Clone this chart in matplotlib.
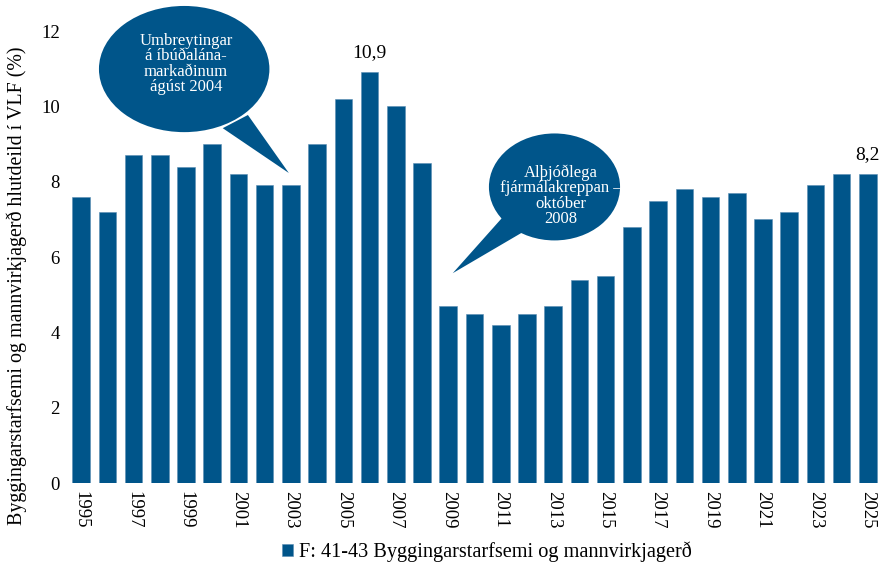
import matplotlib.pyplot as plt
import numpy as np
from matplotlib.patches import Ellipse, Polygon

plt.rcParams["font.family"] = ["Liberation Serif", "DejaVu Serif"]

years = np.arange(1995, 2026)
share = [
    7.6, 7.2, 8.7, 8.7, 8.4, 9.0, 8.2, 7.9, 7.9, 9.0,
    10.2, 10.9, 10.0, 8.5, 4.7, 4.5, 4.2, 4.5, 4.7, 5.4,
    5.5, 6.8, 7.5, 7.8, 7.6, 7.7, 7.0, 7.2, 7.9, 8.2, 8.2,
]
labelled_years = [2006, 2025]
tick_years = years[::2]

series_name = "F: 41-43 Byggingarstarfsemi og mannvirkjagerð"
y_title = "Byggingarstarfsemi og mannvirkjagerð hlutdeild í VLF (%)"
note_mortgage = "Umbreytingar\ná íbúðalána-\nmarkaðinum\nágúst 2004"
note_crisis = "Alþjóðlega\nfjármálakreppan –\noktóber\n2008"

blue = "#00558a"


def speech_bubble(ax, center, size, tail, text_at, text):
    ax.add_patch(Ellipse(center, size[0], size[1], facecolor=blue,
                         edgecolor="none", zorder=4, clip_on=False))
    ax.add_patch(Polygon(tail, closed=True, facecolor=blue,
                         edgecolor="none", zorder=4, clip_on=False))
    ax.text(text_at[0], text_at[1], text, color="white",
            ha="center", va="center", fontsize=12, linespacing=0.95,
            zorder=5)


fig = plt.figure(figsize=(8.81, 5.65), dpi=100)
ax = fig.add_axes([68 / 881, 82 / 565, 813 / 881, 452 / 565])

bars = ax.bar(years, share, width=0.67, color=blue, edgecolor="#5b8db3",
              linewidth=0.4, label=series_name, zorder=2)

for year, value in zip(years, share):
    if year in labelled_years:
        ax.text(year, value + 0.3, f"{value:.1f}".replace(".", ","),
                ha="center", va="bottom", fontsize=14)

speech_bubble(ax, (1998.93, 10.99), (6.5, 3.35),
              [(2000.40, 9.42), (2001.36, 9.77), (2002.92, 8.23)],
              (1999.0, 11.12), note_mortgage)
speech_bubble(ax, (2013.05, 7.86), (5.0, 2.84),
              [(2011.04, 7.03), (2011.84, 6.66), (2009.17, 5.57)],
              (2013.3, 7.63), note_crisis)

ax.set_xlim(1994.5, 2025.5)
ax.set_ylim(0, 12)
ax.set_yticks(np.arange(0, 13, 2))
ax.set_xticks(tick_years)
ax.set_xticklabels([str(y) for y in tick_years], rotation=-90)
ax.tick_params(axis="both", length=0, labelsize=13.5, pad=6)
ax.set_ylabel(y_title, fontsize=14.4)
ax.yaxis.set_label_coords(-0.05, 0.437)
for spine in ax.spines.values():
    spine.set_visible(False)

fig.legend(handles=[bars], labels=[series_name], loc="center",
           bbox_to_anchor=(487 / 881, 1 - 552 / 565), frameon=False,
           fontsize=14.6, handlelength=0.55, handleheight=0.55,
           handletextpad=0.3)

fig.savefig("out.png", dpi=100)
